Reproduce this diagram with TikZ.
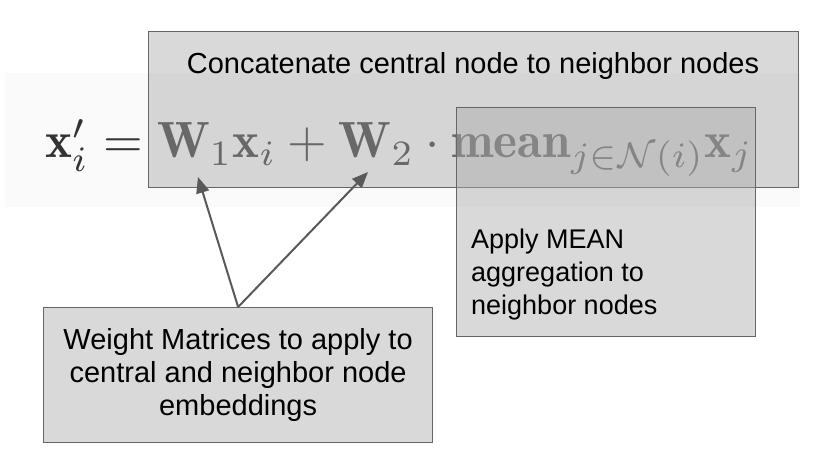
\documentclass[tikz,border=0pt]{standalone}
\usepackage{graphicx}
\usepackage{fontspec}
\usetikzlibrary{arrows.meta}
\newfontfamily\arialfont{Liberation Sans}
\definecolor{boxgray}{RGB}{170,170,170}
\definecolor{edgegray}{RGB}{102,102,102}
\definecolor{arrowgray}{RGB}{89,89,89}
\definecolor{bandgray}{RGB}{250,250,250}
\definecolor{formulagray}{RGB}{51,51,51}
\begin{document}
\begin{tikzpicture}[x=1pt, y=-1pt,
    box/.style={draw=edgegray, line width=1.2pt, fill=boxgray, fill opacity=0.45,
      text opacity=1, inner sep=0pt},
    note/.style={font=\arialfont\fontsize{29}{33}\selectfont, text=black, inner sep=0pt},
    pointer/.style={-{Triangle[length=16pt, width=13pt]}, draw=arrowgray, fill=arrowgray,
      line width=2pt}]
    \useasboundingbox (0,0) rectangle (830,454);
    % Band behind the formula
    \fill[bandgray] (5,73) rectangle (800,207);
    % Formula
    \node[anchor=base west, inner sep=0pt, text=formulagray] (formula) at (45,158)
        {\scalebox{5.1}{$\mathbf{x}'_i = \mathbf{W}_1\mathbf{x}_i + \mathbf{W}_2 \cdot \mathbf{mean}_{j\in\mathcal{N}(i)}\mathbf{x}_j$}};
    % Boxes
    \node[box, anchor=north west, minimum width=650pt, minimum height=156pt] (concat) at (148,31) {};
    \node[box, anchor=north west, minimum width=299pt, minimum height=229pt] (mean) at (456,107) {};
    \node[box, note, anchor=north west, align=center, minimum width=389pt, minimum height=135pt]
        (weights) at (43,307)
        {Weight Matrices to apply to\\central and neighbor node\\embeddings};
    % Box texts
    \node[note, anchor=base] (concattext) at (473,74) {Concatenate central node to neighbor nodes};
    \node[note, anchor=north west, align=left, font=\arialfont\fontsize{27}{33}\selectfont]
        (meantext) at (471,229) {Apply MEAN\\aggregation to\\neighbor nodes};
    % Arrows to the weight matrices
    \coordinate (w1tip) at (198,177);
    \coordinate (w2tip) at (368,172);
    \draw[pointer] (weights.north) -- (w1tip);
    \draw[pointer] (weights.north) -- (w2tip);
\end{tikzpicture}
\end{document}
